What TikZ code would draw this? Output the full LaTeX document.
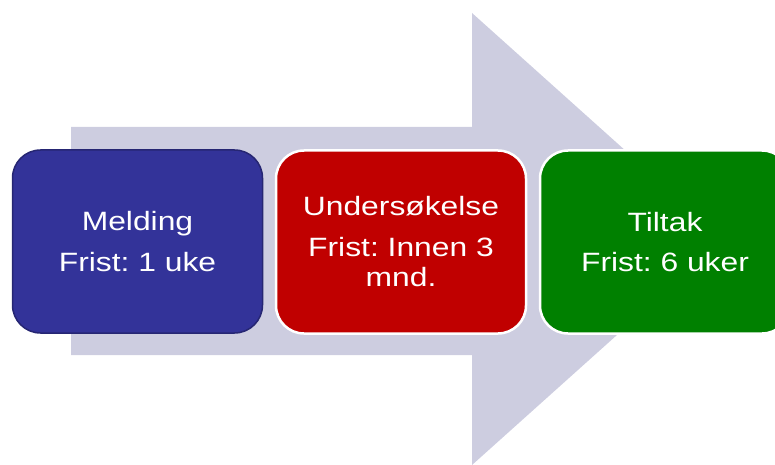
\documentclass[tikz,border=0pt]{standalone}
\usepackage{fontspec}
\usepackage{xcolor}
\setmainfont{Liberation Sans}
\newfontfamily\boxfont[FakeStretch=1.2]{Liberation Sans}
\usepackage{tikz}
\frenchspacing

\definecolor{arrowgray}{RGB}{205,205,224}
\definecolor{meldblue}{RGB}{51,51,153}
\definecolor{meldline}{RGB}{38,38,115}
\definecolor{undred}{RGB}{192,0,0}
\definecolor{tiltgreen}{RGB}{0,128,0}

\begin{document}
\begin{tikzpicture}[x=1pt,y=-1pt]
\useasboundingbox (0,0) rectangle (775,465);

% big arrow behind the boxes
\fill[arrowgray] (71,127) -- (472,127) -- (472,13) -- (724,239)
  -- (472,465) -- (472,355) -- (71,355) -- cycle;

\begin{scope}[every node/.style={rounded corners=28pt, minimum width=250pt,
              minimum height=183pt, inner sep=0pt, text=white, align=center,
              font=\boxfont\fontsize{26.5}{30.5}\selectfont}]
  \node[fill=meldblue, draw=meldline, line width=1.5pt] (melding) at (137.5,241.5)
    {Melding\\[10pt]Frist: 1 uke};
  \node[fill=undred, draw=white, line width=2.5pt] (undersokelse) at (401,242)
    {Undersøkelse\\[10pt]Frist: Innen 3\\mnd.};
  \node[fill=tiltgreen, draw=white, line width=2.5pt] (tiltak) at (665,242)
    {Tiltak\\[10pt]Frist: 6 uker};
\end{scope}

\end{tikzpicture}
\end{document}
